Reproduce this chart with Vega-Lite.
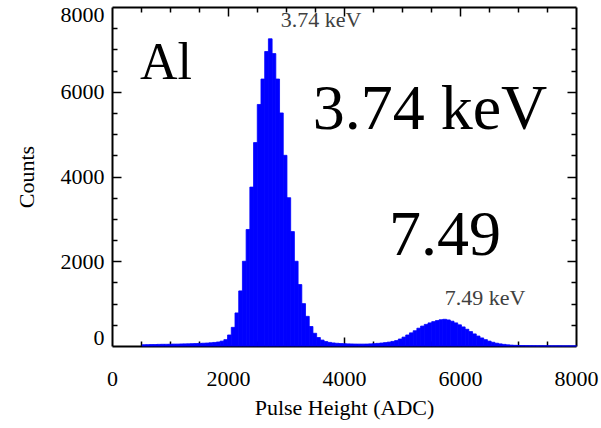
{
  "$schema": "https://vega.github.io/schema/vega-lite/v6.json",
  "width": 464,
  "height": 339,
  "autosize": {"type": "none"},
  "padding": {"left": 112, "top": 7, "right": 25, "bottom": 82},
  "background": "white",
  "config": {
    "font": "Liberation Serif",
    "view": {"stroke": null},
    "axis": {
      "labelFont": "Liberation Serif", "labelFontSize": 22, "labelColor": "black",
      "titleFont": "Liberation Serif", "titleFontSize": 22, "titleFontWeight": "normal", "titleColor": "black",
      "domainColor": "black", "tickColor": "black", "tickWidth": 1.5, "grid": false, "zindex": 1
    }
  },
  "resolve": {"axis": {"x": "independent", "y": "independent"}},
  "layer": [
    {
      "data": {"values": [
        {"lo":512,"hi":576,"count":30},{"lo":576,"hi":640,"count":32},{"lo":640,"hi":704,"count":35},{"lo":704,"hi":768,"count":35},
        {"lo":768,"hi":832,"count":38},{"lo":832,"hi":896,"count":40},{"lo":896,"hi":960,"count":40},{"lo":960,"hi":1024,"count":42},
        {"lo":1024,"hi":1088,"count":45},{"lo":1088,"hi":1152,"count":45},{"lo":1152,"hi":1216,"count":48},{"lo":1216,"hi":1280,"count":50},
        {"lo":1280,"hi":1344,"count":52},{"lo":1344,"hi":1408,"count":55},{"lo":1408,"hi":1472,"count":58},{"lo":1472,"hi":1536,"count":62},
        {"lo":1536,"hi":1600,"count":66},{"lo":1600,"hi":1664,"count":70},{"lo":1664,"hi":1728,"count":76},{"lo":1728,"hi":1792,"count":84},
        {"lo":1792,"hi":1856,"count":95},{"lo":1856,"hi":1920,"count":115},{"lo":1920,"hi":1984,"count":150},{"lo":1984,"hi":2048,"count":260},
        {"lo":2048,"hi":2112,"count":440},{"lo":2112,"hi":2176,"count":780},{"lo":2176,"hi":2240,"count":1300},{"lo":2240,"hi":2304,"count":2000},
        {"lo":2304,"hi":2368,"count":2750},{"lo":2368,"hi":2432,"count":3750},{"lo":2432,"hi":2496,"count":4800},{"lo":2496,"hi":2560,"count":5700},
        {"lo":2560,"hi":2624,"count":6300},{"lo":2624,"hi":2688,"count":6950},{"lo":2688,"hi":2752,"count":7250},{"lo":2752,"hi":2816,"count":6900},
        {"lo":2816,"hi":2880,"count":6300},{"lo":2880,"hi":2944,"count":5500},{"lo":2944,"hi":3008,"count":4500},{"lo":3008,"hi":3072,"count":3500},
        {"lo":3072,"hi":3136,"count":2700},{"lo":3136,"hi":3200,"count":2000},{"lo":3200,"hi":3264,"count":1450},{"lo":3264,"hi":3328,"count":1000},
        {"lo":3328,"hi":3392,"count":700},{"lo":3392,"hi":3456,"count":460},{"lo":3456,"hi":3520,"count":300},{"lo":3520,"hi":3584,"count":200},
        {"lo":3584,"hi":3648,"count":140},{"lo":3648,"hi":3712,"count":105},{"lo":3712,"hi":3776,"count":85},{"lo":3776,"hi":3840,"count":72},
        {"lo":3840,"hi":3904,"count":64},{"lo":3904,"hi":3968,"count":58},{"lo":3968,"hi":4032,"count":54},{"lo":4032,"hi":4096,"count":50},
        {"lo":4096,"hi":4160,"count":48},{"lo":4160,"hi":4224,"count":46},{"lo":4224,"hi":4288,"count":45},{"lo":4288,"hi":4352,"count":45},
        {"lo":4352,"hi":4416,"count":46},{"lo":4416,"hi":4480,"count":50},{"lo":4480,"hi":4544,"count":55},{"lo":4544,"hi":4608,"count":62},
        {"lo":4608,"hi":4672,"count":70},{"lo":4672,"hi":4736,"count":80},{"lo":4736,"hi":4800,"count":92},{"lo":4800,"hi":4864,"count":108},
        {"lo":4864,"hi":4928,"count":128},{"lo":4928,"hi":4992,"count":165},{"lo":4992,"hi":5056,"count":210},{"lo":5056,"hi":5120,"count":260},
        {"lo":5120,"hi":5184,"count":310},{"lo":5184,"hi":5248,"count":360},{"lo":5248,"hi":5312,"count":420},{"lo":5312,"hi":5376,"count":470},
        {"lo":5376,"hi":5440,"count":510},{"lo":5440,"hi":5504,"count":545},{"lo":5504,"hi":5568,"count":575},{"lo":5568,"hi":5632,"count":600},
        {"lo":5632,"hi":5696,"count":620},{"lo":5696,"hi":5760,"count":630},{"lo":5760,"hi":5824,"count":615},{"lo":5824,"hi":5888,"count":585},
        {"lo":5888,"hi":5952,"count":545},{"lo":5952,"hi":6016,"count":500},{"lo":6016,"hi":6080,"count":450},{"lo":6080,"hi":6144,"count":395},
        {"lo":6144,"hi":6208,"count":340},{"lo":6208,"hi":6272,"count":285},{"lo":6272,"hi":6336,"count":235},{"lo":6336,"hi":6400,"count":190},
        {"lo":6400,"hi":6464,"count":150},{"lo":6464,"hi":6528,"count":115},{"lo":6528,"hi":6592,"count":88},{"lo":6592,"hi":6656,"count":66},
        {"lo":6656,"hi":6720,"count":50},{"lo":6720,"hi":6784,"count":38},{"lo":6784,"hi":6848,"count":28},{"lo":6848,"hi":6912,"count":21},
        {"lo":6912,"hi":6976,"count":16},{"lo":6976,"hi":7040,"count":12},{"lo":7040,"hi":7104,"count":10},{"lo":7104,"hi":7168,"count":8},
        {"lo":7168,"hi":7232,"count":7},{"lo":7232,"hi":7296,"count":6},{"lo":7296,"hi":7360,"count":5},{"lo":7360,"hi":7424,"count":5},
        {"lo":7424,"hi":7488,"count":4},{"lo":7488,"hi":7552,"count":4},{"lo":7552,"hi":7616,"count":3},{"lo":7616,"hi":7680,"count":3},
        {"lo":7680,"hi":7744,"count":3},{"lo":7744,"hi":7808,"count":2},{"lo":7808,"hi":7872,"count":2},{"lo":7872,"hi":7936,"count":2},
        {"lo":7936,"hi":8000,"count":2}
      ]},
      "mark": {"type": "bar", "color": "#0000FF", "stroke": "#0000FF", "strokeWidth": 0.8, "orient": "vertical", "binSpacing": 0},
      "encoding": {
        "x": {"field": "lo", "type": "quantitative", "bin": "binned", "scale": {"domain": [0, 8000], "nice": false},
          "axis": {"orient": "bottom", "values": [0, 2000, 4000, 6000, 8000], "format": "d", "ticks": false, "domainWidth": 2,
            "labelPadding": 22, "labelFlush": false, "title": "Pulse Height (ADC)", "titlePadding": 8}},
        "x2": {"field": "hi"},
        "y": {"field": "count", "type": "quantitative", "scale": {"domain": [0, 8000], "nice": false},
          "axis": {"orient": "left", "values": [0, 2000, 4000, 6000, 8000], "format": "d", "ticks": false, "domainWidth": 2,
            "labelPadding": 8, "labelFlush": true, "labelFlushOffset": 3, "title": "Counts", "titlePadding": 22}},
        "y2": {"datum": 0}
      }
    },
    {
      "data": {"values": [{}]},
      "mark": {"type": "point", "opacity": 0},
      "encoding": {
        "x": {"datum": 0, "type": "quantitative", "scale": {"domain": [0, 8000], "nice": false},
          "axis": {"orient": "bottom", "values": [2000, 4000, 6000], "labels": false, "domain": false, "tickSize": -9, "title": null}},
        "y": {"datum": 0, "type": "quantitative", "scale": {"domain": [0, 8000], "nice": false},
          "axis": {"orient": "left", "values": [2000, 4000, 6000], "labels": false, "domain": false, "tickSize": -9, "title": null}}
      }
    },
    {
      "data": {"values": [{}]},
      "mark": {"type": "point", "opacity": 0},
      "encoding": {
        "x": {"datum": 0, "type": "quantitative", "scale": {"domain": [0, 8000], "nice": false},
          "axis": {"orient": "bottom", "values": [500, 1000, 1500, 2500, 3000, 3500, 4500, 5000, 5500, 6500, 7000, 7500], "labels": false, "domain": false, "tickSize": -5, "title": null}},
        "y": {"datum": 0, "type": "quantitative", "scale": {"domain": [0, 8000], "nice": false},
          "axis": {"orient": "left", "values": [500, 1000, 1500, 2500, 3000, 3500, 4500, 5000, 5500, 6500, 7000, 7500], "labels": false, "domain": false, "tickSize": -5, "title": null}}
      }
    },
    {
      "data": {"values": [{}]},
      "mark": {"type": "point", "opacity": 0},
      "encoding": {
        "x": {"datum": 0, "type": "quantitative", "scale": {"domain": [0, 8000], "nice": false},
          "axis": {"orient": "top", "values": [2000, 4000, 6000], "labels": false, "domainWidth": 2, "tickSize": -9, "title": null}},
        "y": {"datum": 0, "type": "quantitative", "scale": {"domain": [0, 8000], "nice": false},
          "axis": {"orient": "right", "values": [2000, 4000, 6000], "labels": false, "domainWidth": 2, "tickSize": -9, "title": null}}
      }
    },
    {
      "data": {"values": [{}]},
      "mark": {"type": "point", "opacity": 0},
      "encoding": {
        "x": {"datum": 0, "type": "quantitative", "scale": {"domain": [0, 8000], "nice": false},
          "axis": {"orient": "top", "values": [500, 1000, 1500, 2500, 3000, 3500, 4500, 5000, 5500, 6500, 7000, 7500], "labels": false, "domain": false, "tickSize": -5, "title": null}},
        "y": {"datum": 0, "type": "quantitative", "scale": {"domain": [0, 8000], "nice": false},
          "axis": {"orient": "right", "values": [500, 1000, 1500, 2500, 3000, 3500, 4500, 5000, 5500, 6500, 7000, 7500], "labels": false, "domain": false, "tickSize": -5, "title": null}}
      }
    },
    {
      "data": {"values": [{}]},
      "mark": {"type": "text", "text": "Al", "font": "Liberation Serif", "fontSize": 52, "color": "black", "align": "center", "baseline": "alphabetic"},
      "encoding": {
        "x": {"datum": 931, "type": "quantitative", "axis": null},
        "y": {"datum": 6310, "type": "quantitative", "axis": null}
      }
    },
    {
      "data": {"values": [{}]},
      "mark": {"type": "text", "text": "3.74 keV", "font": "Liberation Serif", "fontSize": 64, "color": "black", "align": "center", "baseline": "alphabetic"},
      "encoding": {
        "x": {"datum": 5483, "type": "quantitative", "axis": null},
        "y": {"datum": 5120, "type": "quantitative", "axis": null}
      }
    },
    {
      "data": {"values": [{}]},
      "mark": {"type": "text", "text": "7.49", "font": "Liberation Serif", "fontSize": 64, "color": "black", "align": "center", "baseline": "alphabetic"},
      "encoding": {
        "x": {"datum": 5741, "type": "quantitative", "axis": null},
        "y": {"datum": 2148, "type": "quantitative", "axis": null}
      }
    },
    {
      "data": {"values": [{}]},
      "mark": {"type": "text", "text": "3.74 keV", "font": "Liberation Serif", "fontSize": 22, "color": "#404040", "align": "center", "baseline": "alphabetic"},
      "encoding": {
        "x": {"datum": 3603, "type": "quantitative", "axis": null},
        "y": {"datum": 7528, "type": "quantitative", "axis": null}
      }
    },
    {
      "data": {"values": [{}]},
      "mark": {"type": "text", "text": "7.49 keV", "font": "Liberation Serif", "fontSize": 22, "color": "#404040", "align": "center", "baseline": "alphabetic"},
      "encoding": {
        "x": {"datum": 6431, "type": "quantitative", "axis": null},
        "y": {"datum": 968, "type": "quantitative", "axis": null}
      }
    }
  ]
}
